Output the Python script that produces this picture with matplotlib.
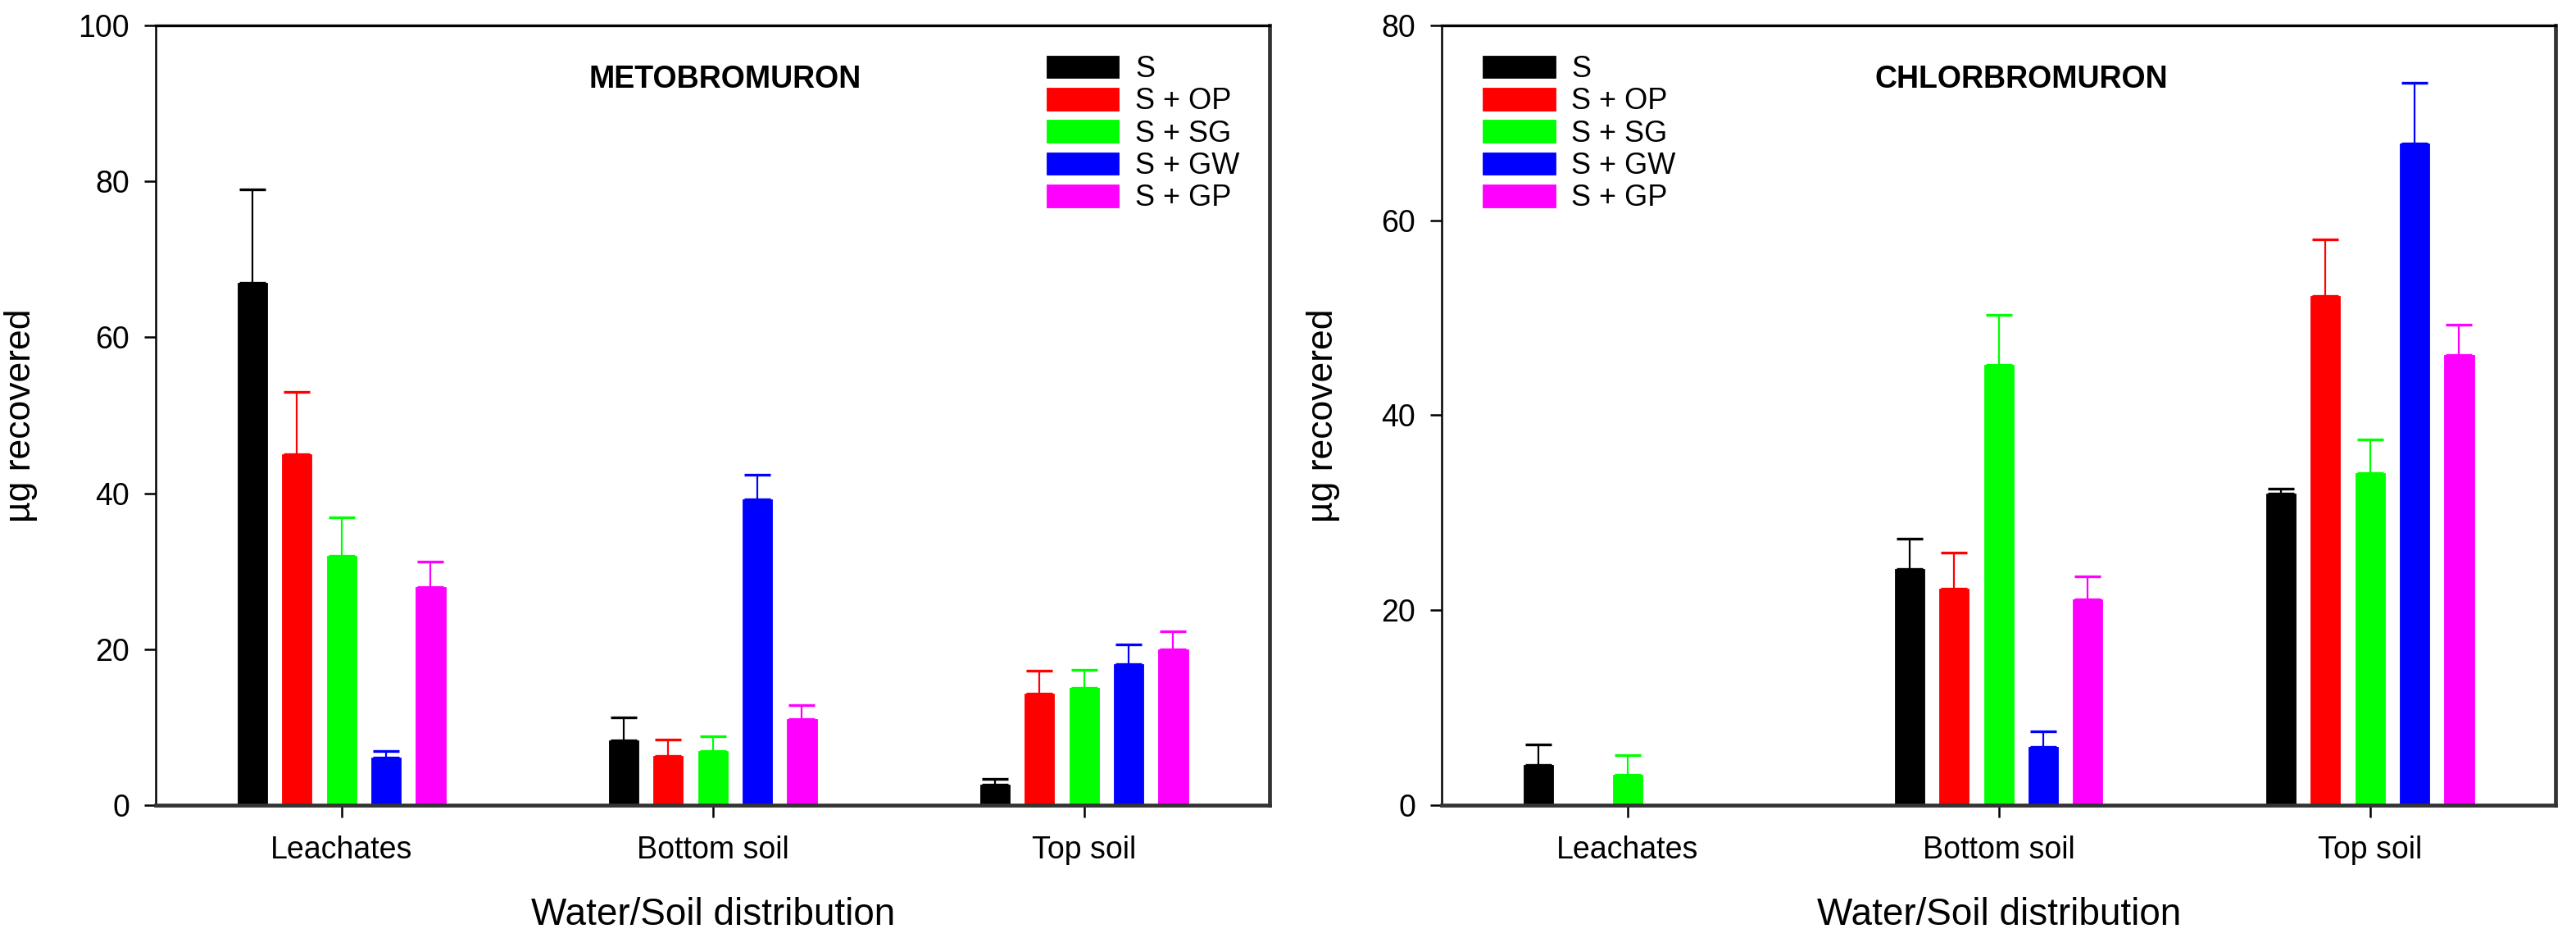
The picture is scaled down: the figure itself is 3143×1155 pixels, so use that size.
import numpy as np
import matplotlib
matplotlib.use('Agg')
import matplotlib.pyplot as plt

plt.rcParams['font.family'] = ['Liberation Sans', 'DejaVu Sans']

# categories and treatments
categories = ['Leachates', 'Bottom soil', 'Top soil']
series = ['S', 'S + OP', 'S + SG', 'S + GW', 'S + GP']
colors = ['#000000', '#ff0000', '#00ff00', '#0000ff', '#ff00ff']

# METOBROMURON, mean and upper error per category
meto_s = [67.0, 8.3, 2.6]
meto_op = [45.0, 6.3, 14.3]
meto_sg = [32.0, 6.9, 15.0]
meto_gw = [6.1, 39.2, 18.1]
meto_gp = [28.0, 11.0, 20.0]
meto_s_err = [12.0, 3.0, 0.8]
meto_op_err = [8.0, 2.1, 2.9]
meto_sg_err = [4.9, 1.9, 2.4]
meto_gw_err = [0.8, 3.2, 2.5]
meto_gp_err = [3.2, 1.8, 2.3]

# CHLORBROMURON
chlo_s = [4.1, 24.2, 32.0]
chlo_op = [0.0, 22.2, 52.2]
chlo_sg = [3.1, 45.2, 34.1]
chlo_gw = [0.0, 6.0, 67.9]
chlo_gp = [0.0, 21.1, 46.2]
chlo_s_err = [2.1, 3.1, 0.5]
chlo_op_err = [0.0, 3.7, 5.8]
chlo_sg_err = [2.0, 5.1, 3.4]
chlo_gw_err = [0.0, 1.6, 6.2]
chlo_gp_err = [0.0, 2.4, 3.1]

meto_vals = [meto_s, meto_op, meto_sg, meto_gw, meto_gp]
meto_errs = [meto_s_err, meto_op_err, meto_sg_err, meto_gw_err, meto_gp_err]
chlo_vals = [chlo_s, chlo_op, chlo_sg, chlo_gw, chlo_gp]
chlo_errs = [chlo_s_err, chlo_op_err, chlo_sg_err, chlo_gw_err, chlo_gp_err]

bar_w = 0.08
step = 0.12


def draw_panel(ax, vals, errs, ymax, title, legend_x):
    x = np.arange(len(categories))
    for i, (v, e, c, lab) in enumerate(zip(vals, errs, colors, series)):
        v = np.array(v, dtype=float)
        e = np.array(e, dtype=float)
        xi = x + (i - 2) * step
        ax.bar(xi, v, width=bar_w, color=c, edgecolor=c, linewidth=0.3, label=lab, zorder=2)
        keep = v > 0
        ax.errorbar(xi[keep], v[keep], yerr=[np.zeros(keep.sum()), e[keep]], fmt='none',
                    ecolor=c, elinewidth=0.8, capsize=5.6, capthick=1.2, zorder=3)
    ax.set_xlim(-0.5, 2.5)
    ax.set_ylim(0, ymax)
    ax.set_yticks(np.arange(0, ymax + 1, 20))
    ax.set_xticks(x)
    ax.set_xticklabels(categories, fontsize=13.5)
    ax.tick_params(axis='y', direction='out', length=5, width=0.9, pad=6.5, labelsize=13.5)
    ax.tick_params(axis='x', direction='out', length=5.4, width=0.9, pad=8)
    ax.spines['left'].set_linewidth(0.9)
    ax.spines['top'].set_linewidth(1.2)
    ax.spines['right'].set_linewidth(1.7)
    ax.spines['right'].set_color('#333333')
    ax.spines['bottom'].set_linewidth(1.7)
    ax.spines['bottom'].set_color('#333333')
    ax.set_ylabel('µg recovered', fontsize=16, labelpad=18)
    ax.set_xlabel('Water/Soil distribution', fontsize=16.5, labelpad=14)
    ax.text(0.389, 0.92, title, transform=ax.transAxes, fontsize=13.5,
            fontweight='bold', ha='left', va='baseline')
    ax.legend(loc='upper left', bbox_to_anchor=(legend_x, 0.962), frameon=False,
              fontsize=13, handlelength=2.44, handleheight=0.8, handletextpad=0.55,
              labelspacing=0.12, borderpad=0, borderaxespad=0)


fig = plt.figure(figsize=(15.715, 5.775), dpi=200)
ax1 = fig.add_axes([0.0605, 0.1498, 0.4324, 0.8234])
ax2 = fig.add_axes([0.5597, 0.1498, 0.4324, 0.8234])

draw_panel(ax1, meto_vals, meto_errs, 100, 'METOBROMURON', 0.80)
draw_panel(ax2, chlo_vals, chlo_errs, 80, 'CHLORBROMURON', 0.037)

fig.savefig('out.png', dpi=200)
